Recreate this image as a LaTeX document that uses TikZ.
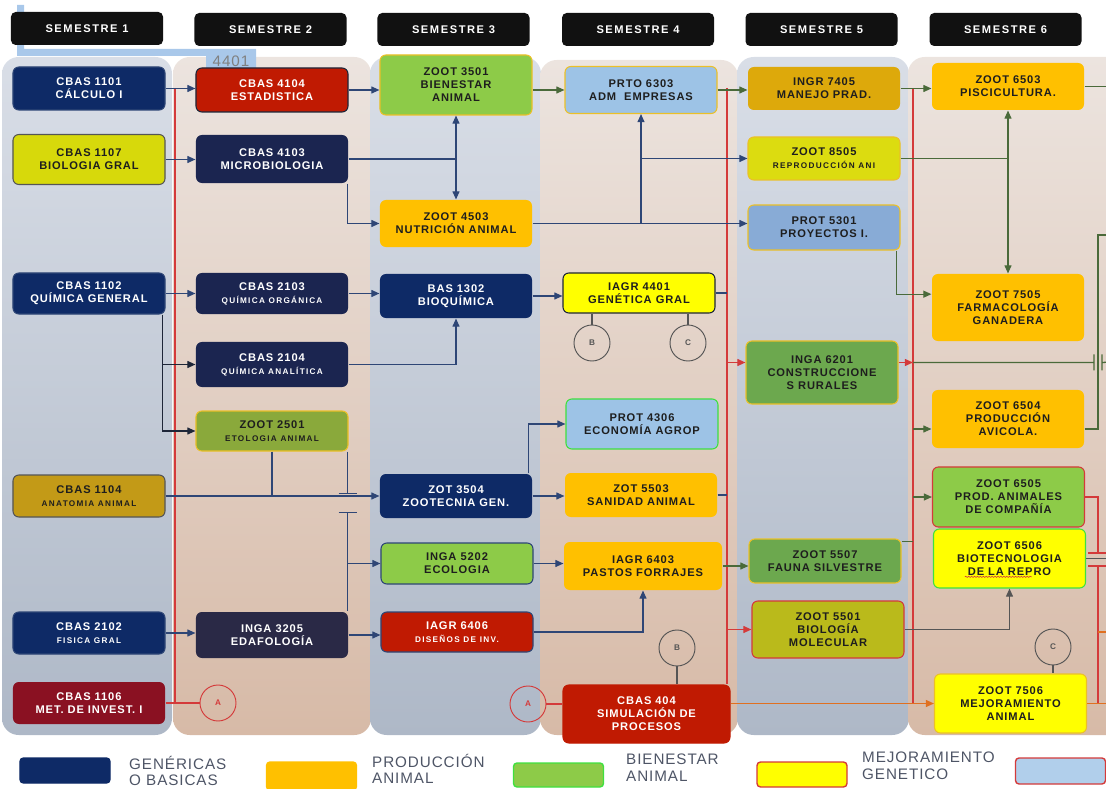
\documentclass[tikz,border=0pt]{standalone}
\usepackage{fontspec}
\setmainfont{Liberation Sans}
\usetikzlibrary{arrows.meta,positioning,decorations.pathmorphing}
\definecolor{navybox}{HTML}{0E2A66}
\definecolor{dnavybox}{HTML}{1B2550}
\definecolor{edafbox}{HTML}{2A2946}
\definecolor{redbox}{HTML}{C01A02}
\definecolor{dredbox}{HTML}{8A1122}
\definecolor{yelbox}{HTML}{D7D90B}
\definecolor{mustbox}{HTML}{C39A17}
\definecolor{olivebox}{HTML}{8AA93B}
\definecolor{grnbox}{HTML}{8DCB48}
\definecolor{orbox}{HTML}{FFC000}
\definecolor{lbluebox}{HTML}{9DC3E6}
\definecolor{sbluebox}{HTML}{88ABD6}
\definecolor{mgrnbox}{HTML}{6CA84E}
\definecolor{oyelbox}{HTML}{BABA1B}
\definecolor{yelbright}{HTML}{FFFF00}
\definecolor{must2box}{HTML}{DDA90B}
\definecolor{ygrnbox}{HTML}{DCDC10}
\definecolor{txtdark}{HTML}{1E1E1E}
\definecolor{navln}{HTML}{2E4676}
\definecolor{grnln}{HTML}{4A6A3A}
\definecolor{redln}{HTML}{D43A3A}
\definecolor{gryln}{HTML}{555555}
\definecolor{orln}{HTML}{E07020}
\definecolor{dkln}{HTML}{1E2638}
\definecolor{legtxt}{HTML}{4E5566}
\definecolor{bandblue}{HTML}{A9C8EA}
\definecolor{hdr}{HTML}{111111}
\definecolor{bluetop}{HTML}{D9DEE7}
\definecolor{bluebot}{HTML}{AEB8C7}
\definecolor{pinktop}{HTML}{ECE4DF}
\definecolor{pinkbot}{HTML}{D7BAA7}
\definecolor{goldedge}{HTML}{EBC028}
\definecolor{brgrn}{HTML}{3FE03F}
\newcommand{\crs}{\fontsize{9.5}{11}\selectfont\bfseries\addfontfeature{LetterSpace=8}}
\newcommand{\smline}{\fontsize{7}{8}\selectfont\addfontfeature{LetterSpace=16}}
\newcommand{\hdrfont}{\fontsize{9.5}{11}\selectfont\bfseries\addfontfeature{LetterSpace=14}}
\newcommand{\lblfont}{\fontsize{7}{8}\selectfont\bfseries}
\newcommand{\legfont}{\fontsize{13}{14}\selectfont\addfontfeature{LetterSpace=6}}
\begin{document}
\begin{tikzpicture}[x=0.03cm, y=-0.03cm]
\tikzstyle{course}=[rounded corners=5pt, minimum width=4.56cm, inner sep=1pt, align=center, line width=0.9pt, font=\crs]
\tikzstyle{semhead}=[fill=hdr, rounded corners=4pt, minimum width=4.56cm, minimum height=0.99cm, text=white, font=\hdrfont]
\tikzstyle{jointc}=[circle, draw=gryln, line width=0.8pt, minimum size=1.08cm, inner sep=0pt, text=gryln, font=\lblfont]
\tikzstyle{legbox}=[rounded corners=3pt, minimum width=2.7cm, minimum height=0.75cm, line width=1.2pt]
\tikzstyle{legtext}=[anchor=north west, inner sep=0pt, align=left, text=legtxt, font=\legfont]
\tikzstyle{nav}=[draw=navln, line width=1.1pt, -{Triangle[length=7pt,width=6pt]}]
\tikzstyle{navline}=[draw=navln, line width=1.1pt]
\tikzstyle{dkarr}=[draw=dkln, line width=1.1pt, -{Triangle[length=7pt,width=6pt]}]
\tikzstyle{grn}=[draw=grnln, line width=1.1pt, -{Triangle[length=7pt,width=6pt]}]
\tikzstyle{grnline}=[draw=grnln, line width=1.1pt]
\tikzstyle{redarr}=[draw=redln, line width=1.1pt, -{Triangle[length=7pt,width=6pt]}]
\tikzstyle{redline}=[draw=redln, line width=1.1pt]
\tikzstyle{gryarr}=[draw=gryln, line width=1.1pt, -{Triangle[length=7pt,width=6pt]}]
\tikzstyle{gryline}=[draw=gryln, line width=1pt]
\tikzstyle{orarr}=[draw=orln, line width=1.1pt, -{Triangle[length=7pt,width=6pt]}]
\tikzstyle{orline}=[draw=orln, line width=1.1pt]
\useasboundingbox (0,0) rectangle (1106,789);
\shade[top color=bluetop, bottom color=bluebot, rounded corners=0.5cm] (2,57) rectangle (172,735);
\shade[top color=pinktop, bottom color=pinkbot, rounded corners=0.5cm] (173,57) rectangle (371,735);
\shade[top color=bluetop, bottom color=bluebot, rounded corners=0.5cm] (370,57) rectangle (541,735);
\shade[top color=pinktop, bottom color=pinkbot, rounded corners=0.5cm] (540,60) rectangle (738,735);
\shade[top color=bluetop, bottom color=bluebot, rounded corners=0.5cm] (737,57) rectangle (909,735);
\shade[top color=pinktop, bottom color=pinkbot, rounded corners=0.5cm] (908,57) rectangle (1130,735);
\fill[bandblue] (17,5) rectangle (24,56) (17,49) rectangle (256,56) (206,49) rectangle (256,69);
\node[text=gray, font=\fontsize{13}{13}\selectfont\addfontfeature{LetterSpace=6}, inner sep=0pt] (tag4401) at (231,61) {4401};
\node[semhead] (s1) at (87,28.5) {SEMESTRE 1};
\node[semhead] (s2) at (270.5,29.5) {SEMESTRE 2};
\node[semhead] (s3) at (453.5,29.5) {SEMESTRE 3};
\node[semhead] (s4) at (638,29.5) {SEMESTRE 4};
\node[semhead] (s5) at (821.5,29.5) {SEMESTRE 5};
\node[semhead] (s6) at (1005.5,29.5) {SEMESTRE 6};
\node[course, fill=navybox, draw=navln, text=white, minimum height=1.29cm] (c1101) at (89,88.5) {CBAS 1101\\CÁLCULO I};
\node[course, fill=yelbox, draw=gryln, text=txtdark, minimum height=1.5cm] (c1107) at (89,159.5) {CBAS 1107\\BIOLOGIA GRAL};
\node[course, fill=navybox, draw=navln, text=white, minimum height=1.23cm] (c1102) at (89,293.5) {CBAS 1102\\QUÍMICA GENERAL};
\node[course, fill=mustbox, draw=gryln, text=txtdark, minimum height=1.26cm] (c1104) at (89,496) {CBAS 1104\\{\smline ANATOMIA ANIMAL}};
\node[course, fill=navybox, draw=navln, text=white, minimum height=1.26cm] (c2102) at (89,633) {CBAS 2102\\{\smline FISICA GRAL}};
\node[course, fill=dredbox, text=white, minimum height=1.26cm] (c1106) at (89,703) {CBAS 1106\\MET. DE INVEST. I};
\node[course, fill=redbox, draw=dkln, text=white, minimum height=1.32cm] (c4104) at (272,90) {CBAS 4104\\ESTADISTICA};
\node[course, fill=dnavybox, text=white, minimum height=1.44cm] (c4103) at (272,159) {CBAS 4103\\MICROBIOLOGIA};
\node[course, fill=dnavybox, text=white, minimum height=1.23cm] (c2103) at (272,293.5) {CBAS 2103\\{\smline QUÍMICA ORGÁNICA}};
\node[course, fill=dnavybox, text=white, minimum height=1.35cm] (c2104) at (272,364.5) {CBAS 2104\\{\smline QUÍMICA ANALÍTICA}};
\node[course, fill=olivebox, draw=goldedge, text=txtdark, minimum height=1.2cm] (z2501) at (272,431) {ZOOT 2501\\{\smline ETOLOGIA ANIMAL}};
\node[course, fill=edafbox, text=white, minimum height=1.38cm] (i3205) at (272,635) {INGA 3205\\EDAFOLOGÍA};
\node[course, fill=grnbox, draw=goldedge, text=txtdark, minimum height=1.8cm] (z3501) at (456,85) {ZOOT 3501\\BIENESTAR\\ANIMAL};
\node[course, fill=orbox, text=txtdark, minimum height=1.41cm] (z4503) at (456,223.5) {ZOOT 4503\\NUTRICIÓN ANIMAL};
\node[course, fill=navybox, text=white, minimum height=1.32cm] (b1302) at (456,296) {BAS 1302\\BIOQUÍMICA};
\node[course, fill=navybox, text=white, minimum height=1.32cm] (z3504) at (456,496) {ZOT 3504\\ZOOTECNIA GEN.};
\node[course, fill=grnbox, draw=navln, text=txtdark, minimum height=1.23cm] (i5202) at (457,563.5) {INGA 5202\\ECOLOGIA};
\node[course, fill=redbox, draw=navln, text=white, minimum height=1.2cm] (i6406) at (457,632) {IAGR 6406\\{\smline DISEÑOS DE INV.}};
\node[course, fill=lbluebox, draw=goldedge, text=txtdark, minimum height=1.41cm] (p6303) at (641,90) {PRTO 6303\\ADM~ EMPRESAS};
\node[course, fill=yelbright, draw=dkln, text=txtdark, minimum height=1.2cm] (g4401) at (639,293) {IAGR 4401\\GENÉTICA GRAL};
\node[course, fill=lbluebox, draw=brgrn, text=txtdark, minimum height=1.5cm] (p4306) at (642,424) {PROT 4306\\ECONOMÍA AGROP};
\node[course, fill=orbox, text=txtdark, minimum height=1.32cm] (z5503) at (641,495) {ZOT 5503\\SANIDAD ANIMAL};
\node[course, fill=orbox, text=txtdark, minimum width=4.74cm, minimum height=1.44cm] (i6403) at (643,566) {IAGR 6403\\PASTOS FORRAJES};
\node[course, fill=redbox, draw=redbox, text=white, minimum width=5.01cm, minimum height=1.74cm] (c404) at (646.5,714) {CBAS 404\\SIMULACIÓN DE\\PROCESOS};
\node[course, fill=must2box, text=txtdark, minimum height=1.29cm] (i7405) at (824,88.5) {INGR 7405\\MANEJO PRAD.};
\node[course, fill=ygrnbox, draw=goldedge, text=txtdark, minimum height=1.29cm] (z8505) at (824,158.5) {ZOOT 8505\\{\smline REPRODUCCIÓN ANI}};
\node[course, fill=sbluebox, draw=goldedge, text=txtdark, minimum height=1.35cm] (p5301) at (824,227.5) {PROT 5301\\PROYECTOS I.};
\node[course, fill=mgrnbox, draw=goldedge, text=txtdark, minimum height=1.89cm] (i6201) at (822,372.5) {INGA 6201\\CONSTRUCCIONE\\S RURALES};
\node[course, fill=mgrnbox, draw=goldedge, text=txtdark, minimum height=1.32cm] (z5507) at (825,561) {ZOOT 5507\\FAUNA SILVESTRE};
\node[course, fill=oyelbox, draw=redln, text=txtdark, minimum height=1.71cm] (z5501) at (828,629.5) {ZOOT 5501\\BIOLOGÍA\\MOLECULAR};
\node[course, fill=orbox, text=txtdark, minimum height=1.41cm] (z6503) at (1008,86.5) {ZOOT 6503\\PISCICULTURA.};
\node[course, fill=orbox, text=txtdark, minimum height=2.01cm] (z7505) at (1008,307.5) {ZOOT 7505\\FARMACOLOGÍA\\GANADERA};
\node[course, fill=orbox, text=txtdark, minimum height=1.74cm] (z6504) at (1008,419) {ZOOT 6504\\PRODUCCIÓN\\AVICOLA.};
\node[course, fill=grnbox, draw=redln, text=txtdark, minimum height=1.8cm] (z6505) at (1008.5,497) {ZOOT 6505\\PROD. ANIMALES\\DE COMPAÑÍA};
\node[course, fill=yelbright, draw=brgrn, text=txtdark, minimum height=1.77cm] (z6506) at (1009.5,558.5) {ZOOT 6506\\BIOTECNOLOGIA\\DE LA REPRO};
\node[course, fill=yelbright, draw=goldedge, text=txtdark, minimum height=1.77cm] (z7506) at (1010.5,703.5) {ZOOT 7506\\MEJORAMIENTO\\ANIMAL};
\draw[redln, line width=0.5pt, decorate, decoration={snake, amplitude=0.5pt, segment length=2.5pt}] ([xshift=-1.34cm,yshift=-0.55cm]z6506.center) -- ++(67,0);
\node[jointc] (cB1) at (592,343) {B};
\node[jointc] (cC1) at (688,343) {C};
\node[jointc] (cB2) at (677,648) {B};
\node[jointc] (cC2) at (1053,647) {C};
\node[jointc, draw=redln, text=redln] (cA1) at (218,703) {A};
\node[jointc, draw=redln, text=redln] (cA2) at (528,704) {A};
\coordinate (r1t) at (175,88);
\coordinate (r2t) at (727,88);
\coordinate (r3t) at (913,88);
\coordinate (eA) at (1112,89);
\coordinate (eB) at (1110,235);
\coordinate (eC) at (1112,362);
\coordinate (eD) at (1112,560);
\coordinate (eE) at (1112,703);
\draw[redline] (r1t) -- (r1t |- c1106.east);
\draw[redline] (r2t) -- (r2t |- c404.north);
\draw[redline] (r3t) -- (r3t |- z7506.west);
\draw[nav] (c1101.east) -- (c1101.east -| c4104.west);
\draw[nav] (c4104.east) -- (c4104.east -| z3501.west);
\draw[grn] (z3501.east |- p6303.west) -- (p6303.west);
\draw[grn] (p6303.east) -- (p6303.east -| i7405.west);
\draw[grn] (i7405.east) -- (i7405.east -| z6503.west);
\draw[grnline] (z6503.east) -- (z6503.east -| eA);
\draw[nav] (c1107.east) -- (c1107.east -| c4103.west);
\draw[navline] (c4103.east) -- (c4103.east -| z3501.south) coordinate (j1);
\draw[nav] (j1) -- (z3501.south);
\draw[nav] (j1) -- (z4503.north);
\draw[nav] ([xshift=-0.03cm]c4103.south east) |- (z4503.west);
\draw[nav] (z4503.east) -- (z4503.east -| p5301.west);
\draw[nav] (z4503.east -| p6303.south) -- (p6303.south);
\draw[nav] (z4503.east -| p6303.south) |- (z8505.west);
\draw[grnline] (z8505.east) -- (z8505.east -| z6503.south) coordinate (j2);
\draw[grn] (j2) -- (z6503.south);
\draw[grn] (j2) -- (z7505.north);
\draw[grn] ([xshift=-0.12cm]p5301.south east) |- ([yshift=0.4cm]z7505.west);
\draw[grnline] ([yshift=-0.3cm]z6504.east) -| ([xshift=-0.36cm]eB) -- (eB);
\draw[nav] (c1102.east) -- (c1102.east -| c2103.west);
\draw[nav] (c2103.east) -- (c2103.east -| b1302.west);
\draw[nav] (b1302.east) -- (b1302.east -| g4401.west);
\draw[navline] (g4401.east) -- (g4401.east -| r2t);
\draw[nav] (c2104.east) -| (b1302.south);
\coordinate (k1) at ([xshift=-0.09cm]c1102.south east);
\draw[dkarr] (k1) |- (c2104.west);
\draw[dkarr] (k1) |- (z2501.west);
\draw[gryline] (cB1) -- (cB1 |- g4401.south);
\draw[gryline] (cC1) -- (cC1 |- g4401.south);
\draw[redarr] ([yshift=0.3cm]i6201.west -| r2t) -- ([yshift=0.3cm]i6201.west);
\draw[redarr] ([yshift=0.3cm]i6201.east) -- ([yshift=0.3cm]i6201.east -| r3t);
\draw[grnline] ([yshift=0.3cm]i6201.east -| r3t) -- ++(181,0) ++(0,-8) -- ++(0,16) ++(8,0) -- ++(0,-16) ++(0,8) -- (eC);
\draw[grn] ([yshift=-0.3cm]z6504.west -| r3t) -- ([yshift=-0.3cm]z6504.west);
\draw[grn] (z6505.west -| r3t) -- (z6505.west);
\draw[nav] (c1104.east) -- (c1104.east -| z3504.west);
\draw[navline] (z2501.south) -- (z2501.south |- c1104.east);
\coordinate (k2) at ([xshift=-0.03cm]z2501.south east);
\draw[navline] (k2) -- ++(0,42) ++(-9,0) -- ++(18,0);
\draw[navline] (k2) ++(-9,61) -- ++(18,0) (k2) ++(0,61) -- (k2 |- i3205.north);
\draw[nav] (k2 |- i5202.west) -- (i5202.west);
\draw[nav] ([xshift=-0.12cm]z3504.north east) |- (p4306.west);
\draw[nav] (z3504.east) -- (z3504.east -| z5503.west);
\draw[navline] (z5503.east) -- (z5503.east -| r2t);
\draw[nav] (i5202.east) -- (i5202.east -| i6403.west);
\draw[grn] (i6403.east) -- (i6403.east -| z5507.west);
\draw[grnline] ([yshift=-0.09cm]z5507.north east) -- ([yshift=-0.09cm]z5507.north east -| r3t);
\draw[redarr] (z5501.west -| r2t) -- (z5501.west);
\draw[gryarr] (z5501.east) -| (z6506.south);
\coordinate (k4) at ([xshift=0.39cm]z6505.east);
\draw[redline] (z6505.east) -- (k4) -- ++(0,56) ++(-10,0) -- ++(20,0);
\draw[redline] (k4) ++(-10,69) -- ++(20,0) (k4) ++(0,69) -- (k4 |- z7506.east);
\draw[orline] (k4) ++(0,135) -- ++(12,0);
\draw[gryline] (z6506.east) -- (z6506.east -| eD);
\draw[nav] (c2102.east) -- (c2102.east -| i3205.west);
\draw[nav] (i3205.east) -- (i3205.east -| i6406.west);
\draw[nav] (i6406.east) -| (i6403.south);
\draw[redline] (c1106.east) -- (cA1);
\draw[redline] (cA2) -- (cA2 -| c404.west);
\draw[gryline] (cB2) -- (cB2 |- c404.north);
\draw[gryline] (cC2) -- (cC2 |- z7506.north);
\draw[orarr] (z7506.west -| c404.east) -- (z7506.west);
\draw[orline] (z7506.east) -- (z7506.east -| eE);
\node[legbox, fill=navybox, draw=navybox] (lg1) at (65,770.5) {};
\node[legbox, fill=orbox, draw=orbox, minimum height=0.84cm] (lg2) at (311.5,776) {};
\node[legbox, fill=grnbox, draw=brgrn, minimum height=0.72cm] (lg3) at (558.5,775) {};
\node[legbox, fill=yelbright, draw=redln] (lg4) at (802,774.5) {};
\node[legbox, fill=lbluebox!80!white, draw=redln, minimum height=0.78cm] (lg5) at (1060.5,771) {};
\node[legtext] (lt1) at (129,756) {GENÉRICAS\\O BASICAS};
\node[legtext] (lt2) at (372,754) {PRODUCCIÓN\\ANIMAL};
\node[legtext] (lt3) at (626,754) {BIENESTAR\\ANIMAL};
\node[legtext] (lt4) at (862,752) {MEJORAMIENTO\\GENETICO};
\end{tikzpicture}
\end{document}
